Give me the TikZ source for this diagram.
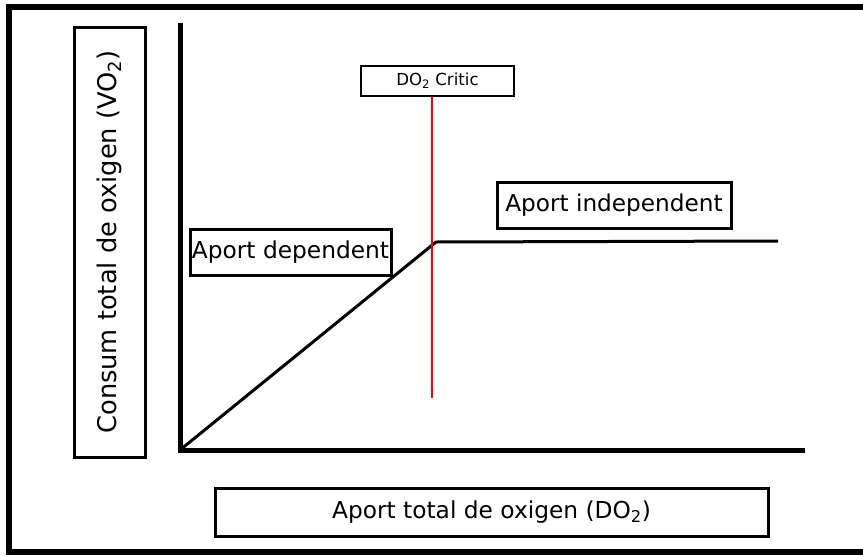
\documentclass[tikz,border=0pt]{standalone}
\usepackage{fontspec}
\setmainfont{DejaVu Sans}
\usetikzlibrary{positioning}

\begin{document}
\begin{tikzpicture}[x=1pt,y=-1pt,
  box/.style={draw,line width=3pt,inner sep=0pt},
  axis/.style={line width=5pt},
  sz/.style={font=\fontsize{#1}{#1}\selectfont}]
\useasboundingbox (0,0) rectangle (863,555);
\draw [line width=6.5pt] (863,7) -- (9,7) -- (9,552) -- (863,552);

\node[box,sz=25.7,rotate=90,minimum width=430,minimum height=71] (ylbl) at (109.5,242) {Consum total de oxigen (VO\textsubscript{2})};
\node[box,sz=23.3,minimum width=553,minimum height=48] (xlbl) at (491.5,512) {Aport total de oxigen (DO\textsubscript{2})};
\node[box,sz=23.3,minimum width=201,minimum height=46] (dep) at (290.5,252.5) {Aport dependent};
\node[box,sz=23.2,minimum width=234,minimum height=46] (indep) at (614,205) {Aport independent};
\node[box,sz=16.6,line width=2pt,minimum width=153,minimum height=30] (crit) at (437.5,81) {DO\textsubscript{2} Critic};

\coordinate (o) at (180,450);
\coordinate (ytop) at (180,23);
\coordinate (xend) at (805,450);
\coordinate (knee) at (436,242);
\coordinate (flat) at (778,241);
\coordinate (critbot) at (432,398);

\draw [axis] (ytop) -- (o) -- (xend);
\draw [line width=3pt] (o) -- (knee) -- (flat);
\draw [red,line width=2.5pt] (crit.south -| critbot) -- (critbot);

\end{tikzpicture}
\end{document}
